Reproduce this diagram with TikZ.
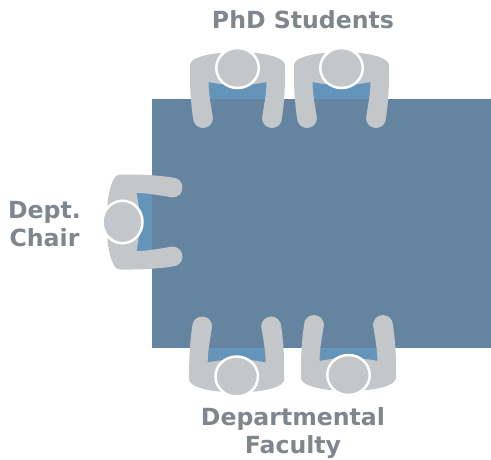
\documentclass[tikz,border=0pt]{standalone}
\usepackage{fontspec}
\setmainfont{DejaVu Sans}
\definecolor{tablecol}{HTML}{64849F}
\definecolor{chestcol}{HTML}{6594BB}
\definecolor{bodycol}{HTML}{C3C7CA}
\definecolor{labelcol}{HTML}{7F868C}
\begin{document}
\begin{tikzpicture}[x=1pt,y=-1pt,inner sep=0pt,outer sep=0pt,
grouplabel/.style={align=center,text=labelcol,font=\fontsize{23.6}{28.5}\selectfont\bfseries},
headdisc/.style={draw=white,fill=bodycol,line width=2.5pt},
chest/.pic={\fill[chestcol] (-30,10) rectangle (30,45);},
seated/.pic={
\fill[bodycol] (-47.5,-3) .. controls (-47.5,-10) and (-30,-14) .. (-18,-15) -- (18,-15)
  .. controls (30,-14) and (47.5,-10) .. (47.5,-3) -- (47.5,8) .. controls (47.5,25) and (46,40) .. (44.5,50)
  arc[start angle=0,end angle=-180,radius=10pt] .. controls (26.5,38) and (29,25) .. (29,14)
  .. controls (10,18) and (-10,18) .. (-29,14) .. controls (-29,25) and (-26.5,38) .. (-24.5,50)
  arc[start angle=0,end angle=-180,radius=10pt] .. controls (-46,40) and (-47.5,25) .. (-47.5,8) -- cycle;
\draw[headdisc] (0,0) ellipse[x radius=21.25pt,y radius=20pt];
}]
\useasboundingbox (0,0) rectangle (491,459);

\foreach \px/\py/\rot in {237.5/68/0,341.5/68/0,122.5/222/90,236.7/376.5/180,348.5/375/180}
  \pic[rotate=\rot] at (\px,\py) {chest};
\node[fill=tablecol,minimum width=339pt,minimum height=249pt,anchor=north west] (table) at (152,99) {};
\foreach \px/\py/\rot in {237.5/68/0,341.5/68/0,122.5/222/90,236.7/376.5/180,348.5/375/180}
  \pic[rotate=\rot] at (\px,\py) {seated};

\node[grouplabel] (phd) at (303,20) {PhD Students};
\node[grouplabel] (chair) at (44.5,224) {Dept.\\Chair};
\node[grouplabel] (faculty) at (293,433) {Departmental\\Faculty};
\end{tikzpicture}
\end{document}
